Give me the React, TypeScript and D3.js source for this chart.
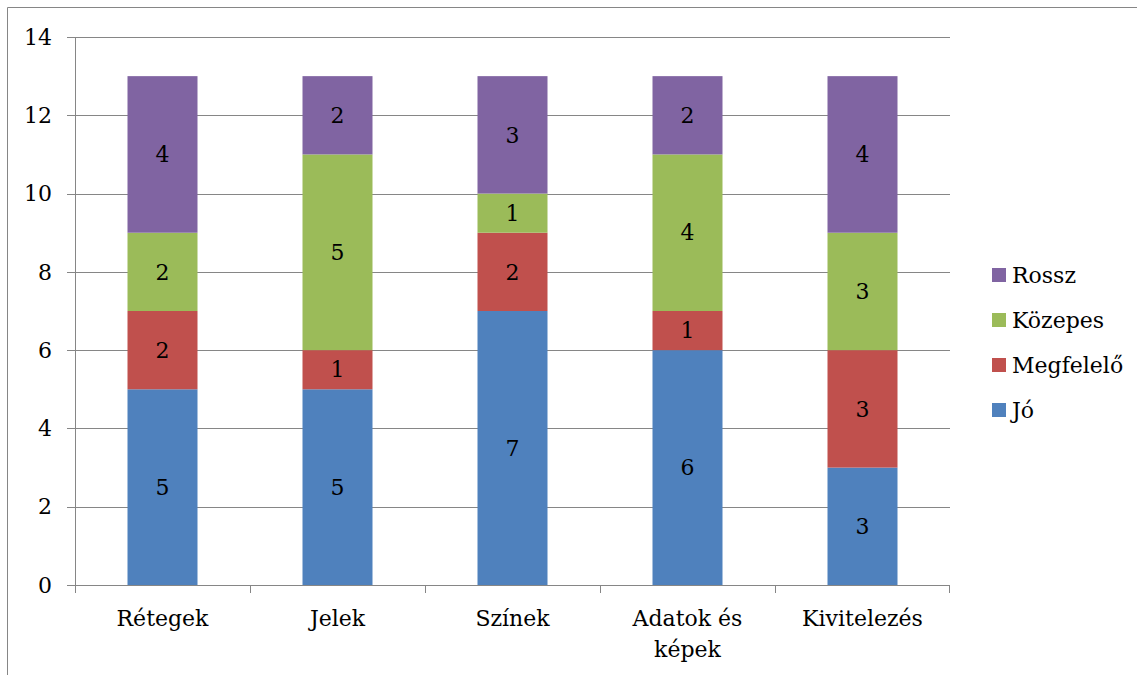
import React from "react";
import * as d3 from "d3";

const categories: string[][] = [["Rétegek"], ["Jelek"], ["Színek"], ["Adatok és", "képek"], ["Kivitelezés"]];
const seriesNames = ["Jó", "Megfelelő", "Közepes", "Rossz"];
const jo = [5, 5, 7, 6, 3];
const megfelelo = [2, 1, 2, 1, 3];
const kozepes = [2, 5, 1, 4, 3];
const rossz = [4, 2, 3, 2, 4];
const seriesColors = ["#4F81BD", "#C0504D", "#9BBB59", "#8064A2"];
const yTicks = [0, 2, 4, 6, 8, 10, 12, 14];

export default function App() {
  const W = 1137, H = 675;
  const left = 75, right = 950, top = 37, bottom = 585;
  const font = "DejaVu Serif";
  const fs = 22;
  const keys = categories.map((c) => c.join(" "));
  const x = d3.scaleBand<string>().domain(keys).range([left, right]).padding(0);
  const y = d3.scaleLinear().domain([0, 14]).range([bottom, top]);
  const seriesData = [jo, megfelelo, kozepes, rossz];
  const rows = keys.map((k, i) => {
    const r: any = { key: k };
    seriesNames.forEach((s, j) => (r[s] = seriesData[j][i]));
    return r;
  });
  const stack = d3.stack<any>().keys(seriesNames)(rows);
  const bw = x.bandwidth() * 0.4;
  const grid = "#868686";
  const legendY0 = 275;
  const legendStep = 45;
  const legendOrder = [3, 2, 1, 0];

  return (
    <svg width={W} height={H} fontFamily={font} fontSize={fs} style={{ position: "absolute", left: 0, top: 0, background: "#fff" }}>
      <rect x={0} y={0} width={W} height={H} fill="#fff" />
      <line x1={7.5} y1={7.5} x2={W} y2={7.5} stroke={grid} strokeWidth={1} />
      <line x1={7.5} y1={7.5} x2={7.5} y2={H} stroke={grid} strokeWidth={1} />
      {yTicks.map((t) => (
        <g key={t}>
          {t > 0 && <line x1={left} x2={right} y1={Math.round(y(t)) + 0.5} y2={Math.round(y(t)) + 0.5} stroke={grid} />}
          <line x1={left - 8} x2={left} y1={Math.round(y(t)) + 0.5} y2={Math.round(y(t)) + 0.5} stroke={grid} />
          <text x={52} y={y(t)} dy="0.35em" textAnchor="end" fill="#000">
            {t}
          </text>
        </g>
      ))}
      <line x1={left + 0.5} x2={left + 0.5} y1={top} y2={bottom} stroke={grid} />
      {stack.map((s, j) => (
        <g key={seriesNames[j]}>
          {s.map((d, i) => (
            <g key={i}>
              <rect
                x={x(keys[i])! + (x.bandwidth() - bw) / 2}
                y={y(d[1])}
                width={bw}
                height={y(d[0]) - y(d[1])}
                fill={seriesColors[j]}
              />
              <text
                x={x(keys[i])! + x.bandwidth() / 2}
                y={(y(d[0]) + y(d[1])) / 2}
                dy="0.35em"
                textAnchor="middle"
                fill="#000"
              >
                {d[1] - d[0]}
              </text>
            </g>
          ))}
        </g>
      ))}
      <line x1={left} x2={right} y1={bottom + 0.5} y2={bottom + 0.5} stroke={grid} />
      {keys.map((k) => (
        <line key={k} x1={Math.round(x(k)!) + 0.5} x2={Math.round(x(k)!) + 0.5} y1={bottom} y2={bottom + 8} stroke={grid} />
      ))}
      <line x1={right - 0.5} x2={right - 0.5} y1={bottom} y2={bottom + 8} stroke={grid} />
      {categories.map((c, i) => (
        <text key={i} textAnchor="middle" fill="#000">
          {c.map((line, li) => (
            <tspan key={li} x={x(keys[i])! + x.bandwidth() / 2} y={626 + li * 31}>
              {line}
            </tspan>
          ))}
        </text>
      ))}
      {legendOrder.map((j, idx) => (
        <g key={j}>
          <rect x={992} y={legendY0 + idx * legendStep - 7} width={14} height={14} fill={seriesColors[j]} />
          <text x={1012} y={legendY0 + idx * legendStep} dy="0.35em" fill="#000">
            {seriesNames[j]}
          </text>
        </g>
      ))}
    </svg>
  );
}
